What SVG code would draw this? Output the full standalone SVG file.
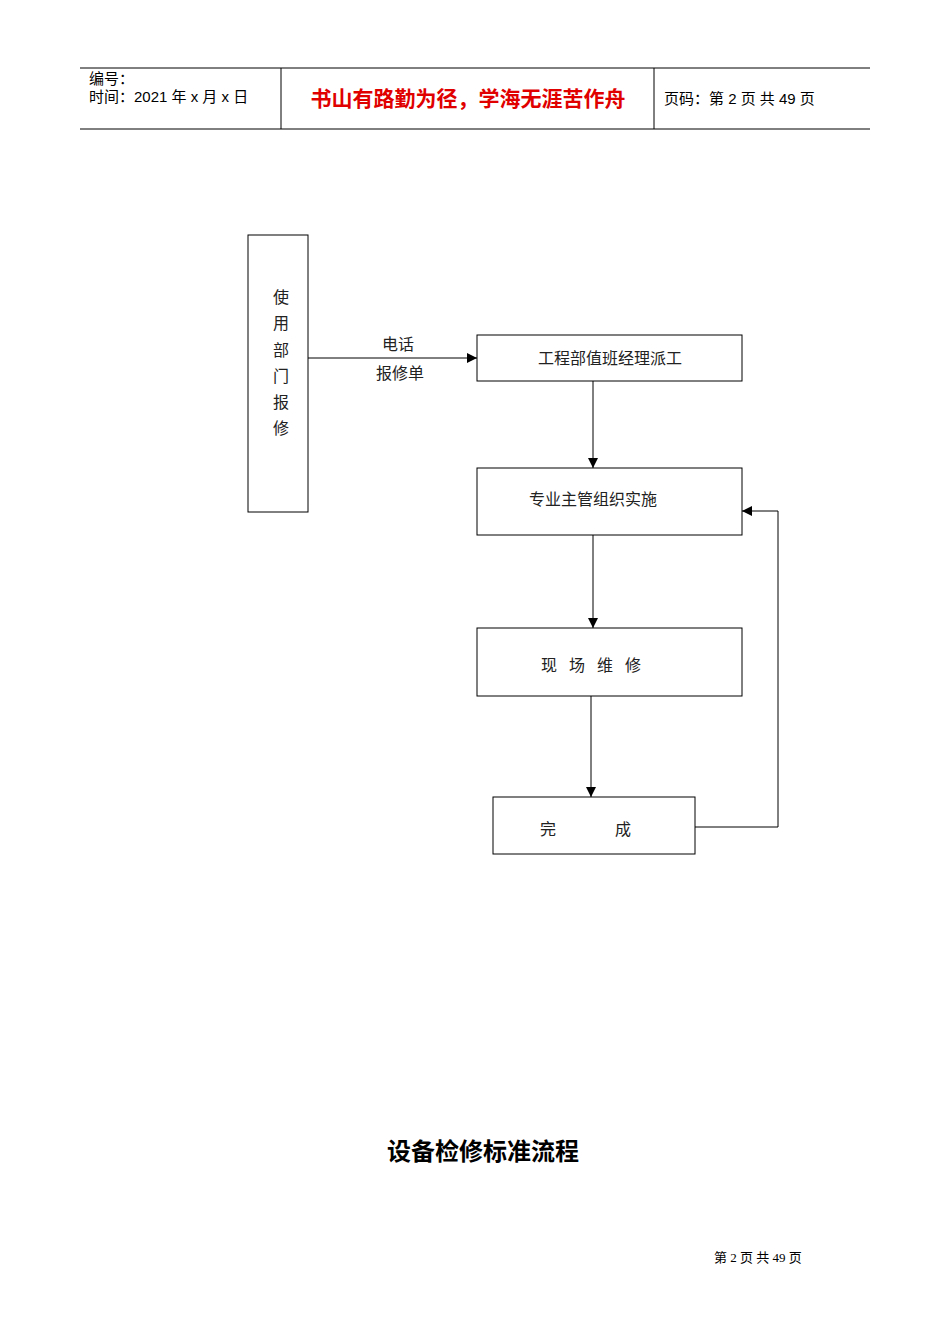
<svg xmlns="http://www.w3.org/2000/svg" width="950" height="1344" viewBox="0 0 950 1344">
<style>
.b{fill:#fff;stroke:#000;stroke-width:1}
.t{font-family:"Liberation Serif","Noto Sans CJK SC",serif;font-size:16px;fill:#222;text-anchor:middle}
.h{font-family:"Liberation Sans","Noto Sans CJK SC",sans-serif;font-size:15px;fill:#000}
.c{fill:none;stroke:#000;stroke-width:1}
</style>
<defs><marker id="a" viewBox="0 0 10 10" refX="10" refY="5" markerWidth="10" markerHeight="10" markerUnits="userSpaceOnUse" orient="auto"><path d="M0,0L10,5L0,10z" fill="#000"/></marker></defs>
<rect width="950" height="1344" fill="#fff"/>
<g id="header">
<line x1="80" y1="68" x2="870" y2="68" class="c"/>
<line x1="80" y1="129" x2="870" y2="129" class="c"/>
<line x1="281" y1="68" x2="281" y2="129" class="c"/>
<line x1="654" y1="68" x2="654" y2="129" class="c"/>
<text x="89" y="84" class="h">编号：</text>
<text x="89" y="102" class="h">时间：2021 年 x 月 x 日</text>
<text x="468" y="106" font-family="Liberation Sans,Noto Sans CJK SC,sans-serif" font-size="21" font-weight="bold" fill="#e00000" text-anchor="middle">书山有路勤为径，学海无涯苦作舟</text>
<text x="664" y="104" class="h">页码：第 2 页 共 49 页</text>
</g>
<g id="n1"><rect x="248" y="235" width="60" height="277" class="b"/>
<text class="t"><tspan x="281" y="303">使</tspan><tspan x="281" y="329">用</tspan><tspan x="281" y="356">部</tspan><tspan x="281" y="382">门</tspan><tspan x="281" y="408">报</tspan><tspan x="281" y="434">修</tspan></text></g>
<g id="n2"><rect x="477" y="335" width="265" height="46" class="b"/><text x="610" y="364" class="t">工程部值班经理派工</text></g>
<g id="n3"><rect x="477" y="468" width="265" height="67" class="b"/><text x="593" y="505" class="t">专业主管组织实施</text></g>
<g id="n4"><rect x="477" y="628" width="265" height="68" class="b"/><text x="591" y="671" class="t" xml:space="preserve">现   场   维   修</text></g>
<g id="n5"><rect x="493" y="797" width="202" height="57" class="b"/><text x="548" y="835" class="t">完</text><text x="623" y="835" class="t">成</text></g>
<g id="connectors">
<line x1="308" y1="358" x2="477" y2="358" class="c" marker-end="url(#a)"/>
<text x="398" y="350" class="t">电话</text><text x="400" y="379" class="t">报修单</text>
<line x1="593" y1="381" x2="593" y2="468" class="c" marker-end="url(#a)"/>
<line x1="593" y1="535" x2="593" y2="628" class="c" marker-end="url(#a)"/>
<line x1="591" y1="696" x2="591" y2="797" class="c" marker-end="url(#a)"/>
<polyline points="695,827 778,827 778,511 742,511" class="c" marker-end="url(#a)"/>
</g>
<text x="483" y="1160" font-family="Liberation Sans,Noto Sans CJK SC,sans-serif" font-size="24" font-weight="bold" text-anchor="middle">设备检修标准流程</text>
<text x="758" y="1262" font-family="Liberation Serif,Noto Sans CJK SC,serif" font-size="13" text-anchor="middle">第 2 页 共 49 页</text>
</svg>
